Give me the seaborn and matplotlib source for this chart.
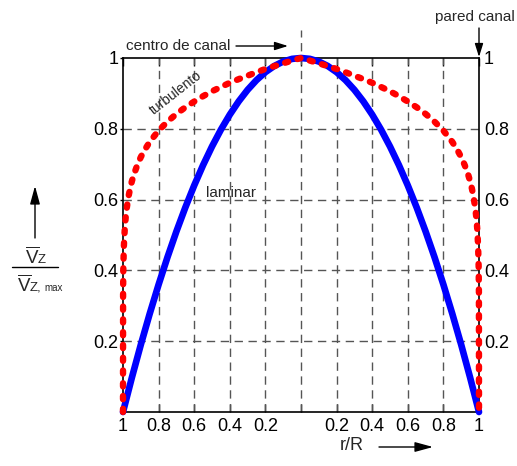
import numpy as np
import pandas as pd
import matplotlib
matplotlib.use("Agg")
import matplotlib.pyplot as plt
from matplotlib.lines import Line2D
from matplotlib.patches import FancyArrowPatch
import seaborn as sns

# ---- data (half profile, r/R from centre to wall) ----
r_lam_half = [0.0, 0.05, 0.1, 0.15, 0.2, 0.25, 0.3, 0.35, 0.4, 0.45, 0.5, 0.55,
              0.6, 0.65, 0.7, 0.75, 0.8, 0.85, 0.9, 0.95, 1.0]
v_lam_half = [1.0, 0.9975, 0.99, 0.9775, 0.96, 0.9375, 0.91, 0.8775, 0.84, 0.7975,
              0.75, 0.6975, 0.64, 0.5775, 0.51, 0.4375, 0.36, 0.2775, 0.19, 0.0975, 0.0]

r_turb_half = [0.0, 0.05, 0.1, 0.15, 0.2, 0.25, 0.3, 0.35, 0.4, 0.45, 0.5, 0.55,
               0.6, 0.65, 0.7, 0.75, 0.8, 0.85, 0.88, 0.9, 0.92, 0.94, 0.95, 0.96,
               0.97, 0.98, 0.985, 0.99, 0.995, 0.998, 0.9995, 1.0]
v_turb_half = [1.0, 0.9927, 0.985, 0.977, 0.969, 0.9597, 0.950, 0.9403, 0.930, 0.9181,
               0.906, 0.8922, 0.877, 0.8607, 0.842, 0.8203, 0.795, 0.763, 0.7387, 0.720,
               0.6971, 0.6691, 0.652, 0.6314, 0.606, 0.572, 0.5488, 0.518, 0.469, 0.4116,
               0.3376, 0.0]

x_ticks = [-1.0, -0.8, -0.6, -0.4, -0.2, 0.0, 0.2, 0.4, 0.6, 0.8, 1.0]
x_tick_labels = ["1", "0.8", "0.6", "0.4", "0.2", "", "0.2", "0.4", "0.6", "0.8", "1"]
y_ticks = [0.2, 0.4, 0.6, 0.8, 1.0]
y_tick_labels = ["0.2", "0.4", "0.6", "0.8", "1"]


def full_profile(r_half, v_half):
    r = [-x for x in r_half[::-1]] + list(r_half[1:])
    v = list(v_half[::-1]) + list(v_half[1:])
    return r, v


r_lam, v_lam = full_profile(r_lam_half, v_lam_half)
r_turb, v_turb = full_profile(r_turb_half, v_turb_half)
df_lam = pd.DataFrame({"r": r_lam, "v": v_lam})
df_turb = pd.DataFrame({"r": r_turb, "v": v_turb})

sns.set_style("white")
plt.rcParams["font.family"] = ["Liberation Sans", "DejaVu Sans"]
plt.rcParams["mathtext.fontset"] = "custom"
plt.rcParams["mathtext.rm"] = "Liberation Sans"
plt.rcParams["mathtext.it"] = "Liberation Sans"

W, H = 517, 466
L, R, T, B = 123, 479, 58, 412
fig = plt.figure(figsize=(W / 100, H / 100), dpi=100)
ax = fig.add_axes([L / W, 1 - B / H, (R - L) / W, (B - T) / H])


def fx(px):
    return px / W


def fy(py):
    return 1 - py / H


def arrow(p0, p1, hl=8, hw=2.5):
    fig.add_artist(FancyArrowPatch(
        (fx(p0[0]), fy(p0[1])), (fx(p1[0]), fy(p1[1])), transform=fig.transFigure,
        arrowstyle=f"-|>,head_length={hl},head_width={hw}", color="black", lw=1,
        mutation_scale=1, shrinkA=0, shrinkB=0))


# grid
grid_kw = dict(color="#555555", lw=1.0, linestyle=(0, (6, 4)), zorder=1)
for x in x_ticks[1:-1]:
    if x == 0.0:
        continue
    ax.axvline(x, **grid_kw)
for y in y_ticks[:-1]:
    ax.axhline(y, **grid_kw)
ax.plot([0, 0], [0, 1.08], clip_on=False, **grid_kw)

# curves
sns.lineplot(data=df_lam, x="r", y="v", sort=False, ax=ax, color="#0000ff",
             lw=4.8, zorder=3, clip_on=False)
sns.lineplot(data=df_turb, x="r", y="v", sort=False, ax=ax, color="#ff0000",
             lw=4.6, zorder=4, clip_on=False)
ax.lines[-1].set_linestyle((0, (0.5, 1.5)))
ax.lines[-1].set_dash_capstyle("round")

ax.set_xlim(-1, 1)
ax.set_ylim(0, 1)
ax.set_xlabel("")
ax.set_ylabel("")
for s in ax.spines.values():
    s.set_color("black")
    s.set_linewidth(1.2)

ax.set_xticks(x_ticks)
ax.set_xticklabels(x_tick_labels, fontsize=13)
ax.set_yticks(y_ticks)
ax.set_yticklabels(y_tick_labels, fontsize=13)
ax.tick_params(axis="x", direction="in", length=6, width=1, top=True, bottom=True,
               pad=4.5, colors="black")
ax.tick_params(axis="y", direction="out", length=2.5, width=1, left=True, right=False,
               labelleft=True, labelright=True, pad=1, colors="black")

# annotations in axes
ax.text(-0.705, 0.902, "turbulento", rotation=38, ha="center", va="center",
        fontsize=10)
ax.text(-0.393, 0.619, "laminar", ha="center", va="center", fontsize=11)

# texts outside
fig.text(fx(126), fy(46), "centro de canal", ha="left", va="center", fontsize=11)
arrow((236, 46), (288, 46))
fig.text(fx(515), fy(17), "pared canal", ha="right", va="center", fontsize=11)
arrow((479, 28), (479, 57))

fig.text(fx(352), fy(446), "r/R", ha="center", va="center", fontsize=13)
arrow((379, 447), (433, 447), hl=11, hw=3)

# y label fraction
arrow((35, 238), (35, 186), hl=11, hw=3)
fig.text(fx(25), fy(263), r"$\overline{\mathrm{V}}$", ha="left", va="baseline",
         fontsize=13.5)
fig.text(fx(38), fy(263), "Z", ha="left", va="baseline", fontsize=9.5)
fig.add_artist(Line2D([fx(12), fx(58)], [fy(267), fy(267)], transform=fig.transFigure,
                      color="black", lw=1))
fig.text(fx(17), fy(291), r"$\overline{\mathrm{V}}$", ha="left", va="baseline",
         fontsize=13.5)
fig.text(fx(30), fy(291), "Z,", ha="left", va="baseline", fontsize=9.5)
fig.text(fx(44), fy(291), "max", ha="left", va="baseline", fontsize=7)

fig.savefig("out.png", dpi=100)
